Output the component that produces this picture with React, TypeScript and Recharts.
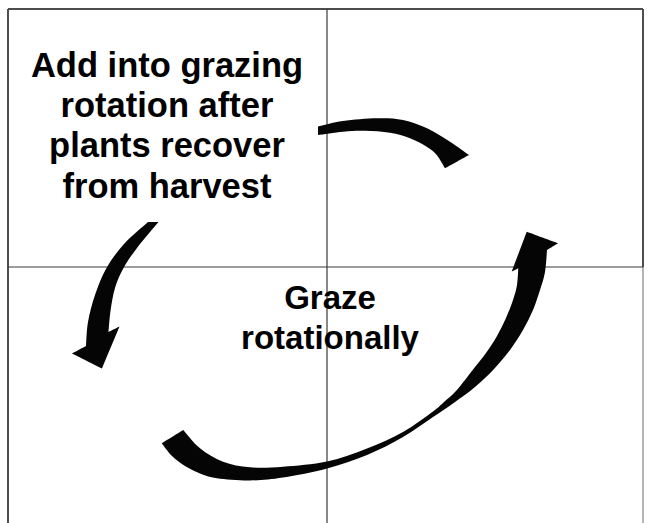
import React from "react"
import { ComposedChart, ReferenceLine, Scatter, XAxis, YAxis } from "recharts"

type Pt = { x: number; y: number; corner?: boolean }

const W = 652
const H = 523

// frame and quadrant dividers, in diagram units (same scale as the picture)
const frameSegments = [
  [{ x: 8, y: 9 }, { x: 643, y: 9 }],
  [{ x: 8, y: 9 }, { x: 8, y: 523 }],
  [{ x: 643, y: 9 }, { x: 643, y: 267 }],
]
const lightSegments = [[{ x: 643, y: 267 }, { x: 643, y: 523 }]]
const dividerSegments = [
  [{ x: 8, y: 267 }, { x: 643, y: 267 }],
  [{ x: 327, y: 9 }, { x: 327, y: 523 }],
]

// arrow outlines (clockwise), corners are sharp, the rest is smoothed
const topArc: Pt[] = [
  { x: 318, y: 126.5, corner: true },
  { x: 343, y: 121 },
  { x: 377, y: 118.3 },
  { x: 403, y: 120 },
  { x: 427, y: 128.3 },
  { x: 450, y: 141.7 },
  { x: 469, y: 155, corner: true },
  { x: 445, y: 168.3, corner: true },
  { x: 436.7, y: 155 },
  { x: 426.7, y: 146.7 },
  { x: 410, y: 138.3 },
  { x: 390, y: 132.8 },
  { x: 365, y: 130.8 },
  { x: 343, y: 131.7 },
  { x: 318, y: 135, corner: true },
]

const leftArrow: Pt[] = [
  { x: 148, y: 222, corner: true },
  { x: 158.5, y: 222, corner: true },
  { x: 137, y: 248 },
  { x: 123.5, y: 268 },
  { x: 115, y: 288 },
  { x: 110.5, y: 311 },
  { x: 108.5, y: 332, corner: true },
  { x: 119.5, y: 326.5, corner: true },
  { x: 102, y: 368.5, corner: true },
  { x: 72, y: 353.5, corner: true },
  { x: 86, y: 346, corner: true },
  { x: 88, y: 322 },
  { x: 95, y: 295 },
  { x: 106.5, y: 268 },
  { x: 124, y: 244 },
]

const bottomArrow: Pt[] = [
  { x: 161.7, y: 443.3, corner: true },
  { x: 172, y: 456 },
  { x: 185, y: 466 },
  { x: 200, y: 473.5 },
  { x: 217, y: 478.3 },
  { x: 250, y: 480.5 },
  { x: 283, y: 477.5 },
  { x: 327, y: 468.5 },
  { x: 367, y: 455 },
  { x: 403, y: 437 },
  { x: 433, y: 417 },
  { x: 455, y: 402 },
  { x: 475, y: 387 },
  { x: 494, y: 369 },
  { x: 510, y: 350 },
  { x: 523, y: 330 },
  { x: 533, y: 310 },
  { x: 540, y: 290 },
  { x: 545, y: 272 },
  { x: 547, y: 250, corner: true },
  { x: 558.3, y: 243.3, corner: true },
  { x: 526.7, y: 231.7, corner: true },
  { x: 511.7, y: 271.7, corner: true },
  { x: 518.3, y: 268.3, corner: true },
  { x: 517, y: 285 },
  { x: 513, y: 300 },
  { x: 506, y: 318 },
  { x: 497, y: 336 },
  { x: 486, y: 353 },
  { x: 475, y: 367 },
  { x: 465, y: 380 },
  { x: 455, y: 392 },
  { x: 444, y: 402 },
  { x: 433, y: 411.5 },
  { x: 403, y: 432 },
  { x: 367, y: 448.5 },
  { x: 327, y: 461.5 },
  { x: 283, y: 466.7 },
  { x: 250, y: 467.3 },
  { x: 223, y: 461.7 },
  { x: 200, y: 448.3 },
  { x: 183.3, y: 430, corner: true },
]

const leftCaption = ["Add into grazing", "rotation after", "plants recover", "from harvest"]
const leftCaptionX = 167
const leftCaptionBaselines = [77, 116.5, 157, 198]

const centerCaption = ["Graze", "rotationally"]
const centerCaptionX = 330
const centerCaptionBaselines = [309, 349]

const leftLabelData = leftCaption.map((text, i) => ({ x: leftCaptionX, y: leftCaptionBaselines[i], text }))
const centerLabelData = centerCaption.map((text, i) => ({ x: centerCaptionX, y: centerCaptionBaselines[i], text }))

function smoothClosedPath(pts: { x: number; y: number }[], corners: boolean[]) {
  const n = pts.length
  const idx = corners.map((c, i) => (c ? i : -1)).filter((i) => i >= 0)
  const f = (v: number) => v.toFixed(2)
  let d = `M${f(pts[idx[0]].x)},${f(pts[idx[0]].y)}`
  for (let k = 0; k < idx.length; k++) {
    const a = idx[k]
    const b = idx[(k + 1) % idx.length]
    const run = [pts[a]]
    let i = a
    while (i !== b) {
      i = (i + 1) % n
      run.push(pts[i])
    }
    for (let j = 0; j < run.length - 1; j++) {
      const p0 = run[Math.max(j - 1, 0)]
      const p1 = run[j]
      const p2 = run[j + 1]
      const p3 = run[Math.min(j + 2, run.length - 1)]
      const c1x = p1.x + (p2.x - p0.x) / 6
      const c1y = p1.y + (p2.y - p0.y) / 6
      const c2x = p2.x - (p3.x - p1.x) / 6
      const c2y = p2.y - (p3.y - p1.y) / 6
      d += ` C${f(c1x)},${f(c1y)} ${f(c2x)},${f(c2y)} ${f(p2.x)},${f(p2.y)}`
    }
  }
  return d + " Z"
}

const arrowOutline = (shape: Pt[]) => (props: any) => {
  const pts = (props.points || []).filter((p: any) => p && p.x != null && p.y != null)
  if (pts.length !== shape.length) return <g />
  return (
    <path
      d={smoothClosedPath(pts, shape.map((p) => !!p.corner))}
      fill="#050505"
      stroke="none"
    />
  )
}

const NoDot = () => <g />

const captionShape = (size: number) => (props: any) => (
  <text
    x={props.cx}
    y={props.cy}
    textAnchor="middle"
    fontFamily="'Liberation Sans', Arial, Helvetica, sans-serif"
    fontWeight="bold"
    fontSize={size}
    fill="#000"
  >
    {props.payload.text}
  </text>
)

export default function App() {
  return (
    <div style={{ position: "absolute", left: 0, top: 0, width: W, height: H, background: "#fff" }}>
      <ComposedChart width={W} height={H} margin={{ top: 0, right: 0, bottom: 0, left: 0 }}>
        <XAxis type="number" dataKey="x" domain={[0, W]} hide allowDataOverflow />
        <YAxis type="number" dataKey="y" domain={[0, H]} reversed hide allowDataOverflow />
        {frameSegments.map((s, i) => (
          <ReferenceLine key={`f${i}`} segment={s} stroke="#4d4d4d" strokeWidth={2} ifOverflow="visible" />
        ))}
        {lightSegments.map((s, i) => (
          <ReferenceLine key={`l${i}`} segment={s} stroke="#b5b5b5" strokeWidth={2} ifOverflow="visible" />
        ))}
        {dividerSegments.map((s, i) => (
          <ReferenceLine key={`d${i}`} segment={s} stroke="#3a3a3a" strokeWidth={1.2} ifOverflow="visible" />
        ))}
        <Scatter data={topArc} shape={NoDot} line={arrowOutline(topArc)} isAnimationActive={false} />
        <Scatter data={leftArrow} shape={NoDot} line={arrowOutline(leftArrow)} isAnimationActive={false} />
        <Scatter data={bottomArrow} shape={NoDot} line={arrowOutline(bottomArrow)} isAnimationActive={false} />
        <Scatter data={leftLabelData} shape={captionShape(34.5)} isAnimationActive={false} />
        <Scatter data={centerLabelData} shape={captionShape(33)} isAnimationActive={false} />
      </ComposedChart>
    </div>
  )
}
